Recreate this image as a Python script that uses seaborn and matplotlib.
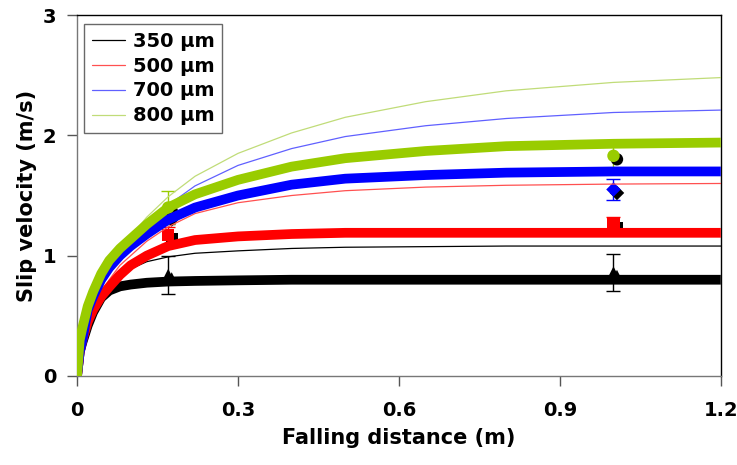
import numpy as np
import pandas as pd
import seaborn as sns
import matplotlib.pyplot as plt
import matplotlib.patheffects as pe

# distance grid (m)
dist = [0, 0.005, 0.01, 0.02, 0.03, 0.045, 0.06, 0.08, 0.1, 0.13, 0.17,
        0.22, 0.3, 0.4, 0.5, 0.65, 0.8, 1.0, 1.2]

# thick curves (model 1)
v350_thick = [0, 0.2, 0.28, 0.42, 0.53, 0.65, 0.71, 0.745, 0.76, 0.775, 0.785,
              0.79, 0.795, 0.80, 0.80, 0.80, 0.80, 0.80, 0.80]
v500_thick = [0, 0.2, 0.3, 0.45, 0.55, 0.66, 0.74, 0.84, 0.92, 1.0, 1.08,
              1.13, 1.16, 1.18, 1.19, 1.19, 1.19, 1.19, 1.19]
v700_thick = [0, 0.2, 0.3, 0.55, 0.66, 0.8, 0.9, 1.0, 1.08, 1.18, 1.30,
              1.40, 1.50, 1.59, 1.64, 1.67, 1.69, 1.70, 1.70]
v800_thick = [0, 0.3, 0.4, 0.58, 0.7, 0.85, 0.96, 1.06, 1.14, 1.26, 1.40,
              1.51, 1.63, 1.74, 1.81, 1.87, 1.91, 1.93, 1.94]

# thin curves (model 2)
v350_thin = [0, 0.2, 0.3, 0.45, 0.55, 0.68, 0.76, 0.84, 0.89, 0.95, 0.99,
             1.02, 1.04, 1.06, 1.07, 1.075, 1.08, 1.08, 1.08]
v500_thin = [0, 0.2, 0.3, 0.46, 0.57, 0.7, 0.8, 0.92, 1.0, 1.12, 1.24,
             1.35, 1.44, 1.50, 1.54, 1.57, 1.585, 1.595, 1.60]
v700_thin = [0, 0.21, 0.31, 0.5, 0.62, 0.76, 0.88, 1.01, 1.12, 1.27, 1.42,
             1.58, 1.75, 1.89, 1.99, 2.08, 2.14, 2.19, 2.21]
v800_thin = [0, 0.21, 0.32, 0.52, 0.64, 0.79, 0.91, 1.05, 1.16, 1.32, 1.49,
             1.66, 1.85, 2.02, 2.15, 2.28, 2.37, 2.44, 2.48]

# measured points
meas_x = [0.17, 1.0]
meas_350 = [0.84, 0.86]
err_350 = [0.16, 0.155]
meas_500 = [1.17, 1.26]
err_500 = [0.07, 0.06]
meas_700 = [1.33, 1.55]
err_700 = [0.07, 0.09]
meas_800 = [1.40, 1.83]
err_800 = [0.14, 0.10]

labels = ["350 µm", "500 µm", "700 µm", "800 µm"]
colors = ["#000000", "#ff0000", "#0000ff", "#99cc00"]
thin_colors = ["#000000", "#ff5050", "#6060ff", "#c0dc78"]
markers = ["^", "s", "D", "o"]
msizes = [80, 75, 55, 80]

thick = [v350_thick, v500_thick, v700_thick, v800_thick]
thin = [v350_thin, v500_thin, v700_thin, v800_thin]
meas = [meas_350, meas_500, meas_700, meas_800]
errs = [err_350, err_500, err_700, err_800]

sns.set_style("ticks")
plt.rcParams['font.family'] = ['DejaVu Sans']
plt.rcParams['font.weight'] = 'bold'
plt.rcParams['text.color'] = 'black'
plt.rcParams['axes.labelcolor'] = 'black'
plt.rcParams['xtick.labelcolor'] = 'black'
plt.rcParams['ytick.labelcolor'] = 'black'

fig = plt.figure(figsize=(7.37, 4.65), dpi=100)
ax = fig.add_axes([0.1045, 0.1914, 0.8735, 0.7763])

# measured points with error bars (under the curves)
for m, e, c, mk, ms in zip(meas, errs, colors, markers, msizes):
    ax.errorbar(meas_x, m, yerr=e, fmt="none", ecolor=c, elinewidth=1,
                capsize=5, capthick=1, zorder=1)
    sns.scatterplot(x=meas_x, y=m, marker=mk, color=c, s=ms, linewidth=0,
                    ax=ax, zorder=2,
                    path_effects=[pe.SimplePatchShadow(offset=(2.5, -2.5),
                                                       shadow_rgbFace="k",
                                                       alpha=1),
                                  pe.Normal()])

# thin curves
for v, c, lab in zip(thin, thin_colors, labels):
    sns.lineplot(x=dist, y=v, color=c, linewidth=0.9, ax=ax, label=lab,
                 sort=False, estimator=None, zorder=3)

# thick curves
for v, c in zip(thick, colors):
    sns.lineplot(x=dist, y=v, color=c, linewidth=7, ax=ax, sort=False,
                 estimator=None, zorder=4, solid_capstyle="butt")

ax.set_xlim(0, 1.2)
ax.set_ylim(0, 3)
ax.set_xticks([0, 0.3, 0.6, 0.9, 1.2])
ax.set_xticklabels(["0", "0.3", "0.6", "0.9", "1.2"])
ax.set_yticks([0, 1, 2, 3])
ax.tick_params(axis="both", direction="out", length=7, width=1,
               color="#555555", labelsize=14, labelcolor="black", pad=11)
ax.tick_params(axis="y", pad=8)
for s in ax.spines.values():
    s.set_visible(True)
    s.set_color("black")
    s.set_linewidth(1)
ax.spines["bottom"].set_color("#777777")
ax.spines["left"].set_color("#777777")

ax.set_xlabel("Falling distance (m)", fontsize=15, fontweight="bold",
              labelpad=6, color="black")
ax.set_ylabel("Slip velocity (m/s)", fontsize=15, fontweight="bold",
              labelpad=4, color="black")

leg = ax.legend(loc="upper left", bbox_to_anchor=(0.011, 0.975), frameon=True,
                fancybox=False, edgecolor="#444444", fontsize=14,
                handlelength=1.7, handletextpad=0.4, borderpad=0.4,
                labelspacing=0.3, borderaxespad=0)
leg.get_frame().set_linewidth(1)
for t in leg.get_texts():
    t.set_fontweight("bold")
    t.set_color("black")

fig.savefig("out.png", dpi=100)
